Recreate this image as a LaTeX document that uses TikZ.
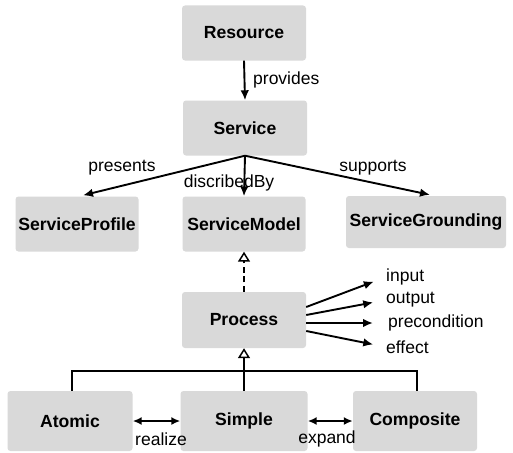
\documentclass[tikz,border=0pt]{standalone}
\usepackage{fontspec}
\setmainfont{Liberation Sans}
\usetikzlibrary{arrows.meta,calc}
\begin{document}
\begin{tikzpicture}[x=1pt,y=-1pt,
  box/.style={fill=gray!30, draw=none, rounded corners=3pt, inner sep=0pt,
    font=\bfseries\fontsize{17.6}{20}\selectfont},
  lbl/.style={inner sep=0pt, font=\fontsize{17.5}{20}\selectfont},
  arr/.style={line width=1.9pt, -{Latex[length=10pt,width=8.5pt]}},
  dbl/.style={line width=1.9pt, {Latex[length=9pt,width=8pt]}-{Latex[length=9pt,width=8pt]}},
  inh/.style={line width=1.5pt, -{Triangle[open,length=10pt,width=12pt,line width=1.5pt]}},
  plain/.style={line width=1.6pt}]
\useasboundingbox (0,0) rectangle (513,452);
\fill[white] (0,0) rectangle (513,452);

\node[box, minimum width=124pt, minimum height=55pt] (res) at (244,33) {Resource};
\node[box, minimum width=124pt, minimum height=55pt] (svc) at (245,128) {Service};
\node[box, minimum width=123pt, minimum height=55pt] (sp) at (77,224) {ServiceProfile};
\node[box, minimum width=123pt, minimum height=55pt] (sm) at (244,224) {ServiceModel};
\node[box, minimum width=160pt, minimum height=52pt] (sg) at (426,222) {ServiceGrounding};
\node[box, minimum width=124pt, minimum height=56pt] (proc) at (244,320) {Process};
\node[box, minimum width=125pt, minimum height=60pt] (at) at (70,421) {Atomic};
\node[box, minimum width=127pt, minimum height=60pt] (si) at (244,421) {Simple};
\node[box, minimum width=124pt, minimum height=60pt] (cp) at (415,421) {Composite};

% labels
\node[lbl, anchor=west] (lprov) at (253,80) {provides};
\node[lbl] (lpres) at (122,168) {presents};
\node[lbl] (ldesc) at (229,183) {discribedBy};
\node[lbl] (lsupp) at (373,168) {supports};

\node[lbl, anchor=west] (in) at (386,277) {input};
\node[lbl, anchor=west] (out) at (386,300) {output};
\node[lbl, anchor=west] (pre) at (388,323) {precondition};
\node[lbl, anchor=west] (eff) at (386,347) {effect};

\node[lbl] (lreal) at (161,439) {realize};
\node[lbl] (lexp) at (327,439) {expand};

% connectors
\draw[arr] (res.south) -- (svc.north);
\draw[arr] (svc.south) -- ($(sp.north)+(6,-1)$);
\draw[arr] (svc.south) -- (sm.north);
\draw[arr] (svc.south) -- ($(sg.north)+(4,-1)$);

\draw[inh, dash pattern=on 6pt off 3.5pt] (proc.north) -- (sm.south);

\draw[arr, shorten >=13pt] ($(proc.east)+(0,-13)$) -- (in.west);
\draw[arr, shorten >=13pt] ($(proc.east)+(0,-5)$) -- (out.west);
\draw[arr, shorten >=15pt] ($(proc.east)+(0,3)$) -- (pre.west);
\draw[arr, shorten >=13pt] ($(proc.east)+(0,11)$) -- (eff.west);

\coordinate (bar) at (244,371);
\draw[plain] ($(at.north)+(2,0)$) |- (bar) -| ($(cp.north)+(2,0)$);
\draw[inh] (si.north) -- (proc.south);

\draw[dbl] (at.east) -- (si.west);
\draw[dbl] (si.east) -- (cp.west);
\end{tikzpicture}
\end{document}
